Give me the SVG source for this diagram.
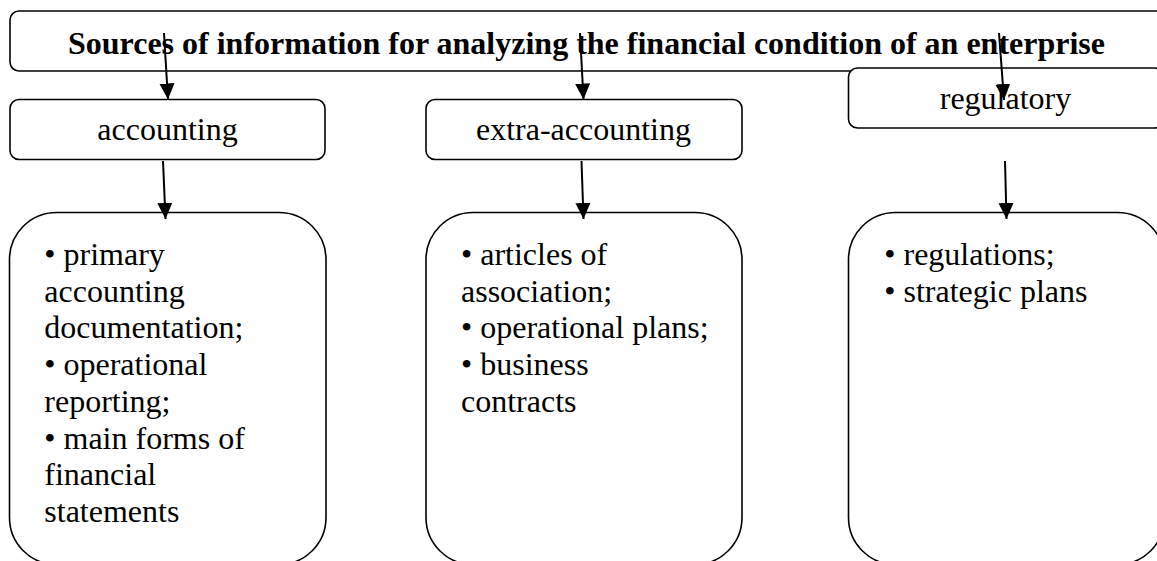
<svg xmlns="http://www.w3.org/2000/svg" width="1157" height="561" viewBox="0 0 1157 561">
<style>
.box{fill:#fff;stroke:#000;stroke-width:1.6}
.t{font-family:"Liberation Serif","Times New Roman",serif;font-size:32px;fill:#000}
.b{font-weight:bold}
.c{text-anchor:middle}
.arr{stroke:#000;stroke-width:2;fill:none;marker-end:url(#ah)}
</style>
<defs>
<marker id="ah" markerUnits="userSpaceOnUse" markerWidth="16" markerHeight="16" viewBox="0 0 16 15" refX="16" refY="7.5" orient="auto">
<path d="M0,0 L16,7.5 L0,15 Z" fill="#000"/>
</marker>
</defs>
<rect width="1157" height="561" fill="#fff"/>
<g id="title">
<rect class="box" x="10" y="11" width="1160" height="60" rx="9"/>
<text class="t b c" x="586.5" y="54">Sources of information for analyzing the financial condition of an enterprise</text>
</g>
<g id="accounting">
<rect class="box" x="10" y="99.5" width="315" height="60" rx="9"/>
<text class="t c" x="167.5" y="140">accounting</text>
</g>
<g id="extra-accounting">
<rect class="box" x="426" y="99.5" width="316" height="60" rx="9"/>
<text class="t c" x="583.5" y="140">extra-accounting</text>
</g>
<g id="regulatory">
<rect class="box" x="848.5" y="68" width="315" height="60" rx="9"/>
<text class="t c" x="1005.5" y="109">regulatory</text>
</g>
<g id="accounting-items">
<rect class="box" x="9.5" y="212.5" width="316.5" height="352" rx="47"/>
<text class="t" x="44.3" y="265">
<tspan x="44.3" y="265">• primary</tspan>
<tspan x="44.3" y="301.7">accounting</tspan>
<tspan x="44.3" y="338.4">documentation;</tspan>
<tspan x="44.3" y="375.1">• operational</tspan>
<tspan x="44.3" y="411.8">reporting;</tspan>
<tspan x="44.3" y="448.5">• main forms of</tspan>
<tspan x="44.3" y="485.2">financial</tspan>
<tspan x="44.3" y="521.9">statements</tspan>
</text>
</g>
<g id="extra-items">
<rect class="box" x="426" y="212.5" width="316" height="352" rx="47"/>
<text class="t" x="461" y="265">
<tspan x="461" y="265">• articles of</tspan>
<tspan x="461" y="301.7">association;</tspan>
<tspan x="461" y="338.4">• operational plans;</tspan>
<tspan x="461" y="375.1">• business</tspan>
<tspan x="461" y="411.8">contracts</tspan>
</text>
</g>
<g id="regulatory-items">
<rect class="box" x="848.5" y="212.5" width="316" height="352" rx="47"/>
<text class="t" x="884.3" y="265">
<tspan x="884.3" y="265">• regulations;</tspan>
<tspan x="884.3" y="301.7">• strategic plans</tspan>
</text>
</g>
<g id="connectors">
<line class="arr" x1="164" y1="33" x2="168" y2="99.5"/>
<line class="arr" x1="580" y1="33" x2="583.5" y2="99.5"/>
<line class="arr" x1="999" y1="33" x2="1004" y2="100"/>
<line class="arr" x1="163" y1="161" x2="165.5" y2="219"/>
<line class="arr" x1="581.5" y1="161" x2="583.5" y2="219"/>
<line class="arr" x1="1005" y1="161" x2="1006.5" y2="219"/>
</g>
</svg>
